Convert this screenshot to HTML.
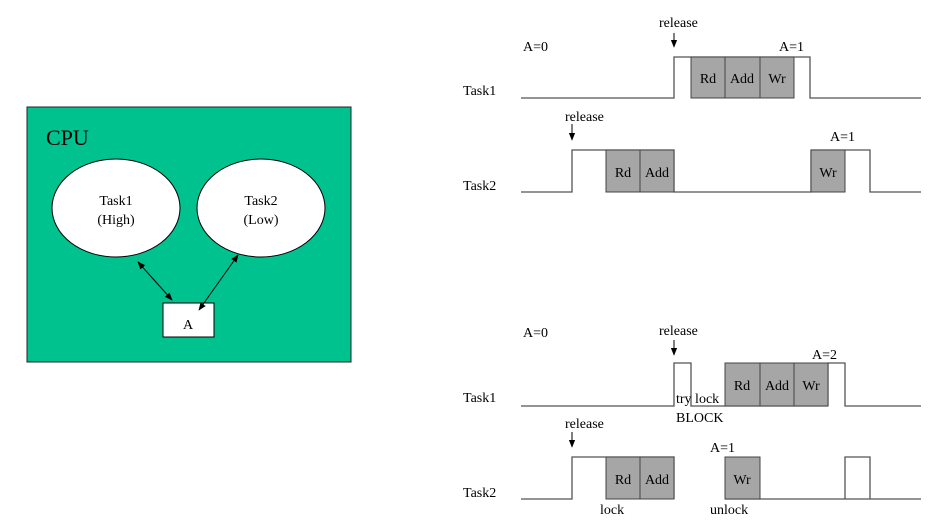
<!DOCTYPE html>
<html><head><meta charset="utf-8"><style>body{margin:0;background:#fff}svg{display:block}</style></head><body>
<svg width="951" height="525" viewBox="0 0 951 525" xmlns="http://www.w3.org/2000/svg" font-family="Liberation Serif, serif" font-size="14">
<defs><marker id="a" viewBox="0 0 10 10" refX="9" refY="5" markerWidth="8" markerHeight="8" orient="auto-start-reverse"><path d="M0,1 L10,5 L0,9 z" fill="#000"/></marker></defs>
<rect x="27" y="107" width="324" height="255" fill="#00c28f" stroke="#222" stroke-width="1"/>
<text x="46" y="145" font-size="22">CPU</text>
<ellipse cx="116" cy="208" rx="64" ry="49" fill="#fff" stroke="#000"/>
<ellipse cx="261" cy="208" rx="64" ry="49" fill="#fff" stroke="#000"/>
<text x="116" y="205" text-anchor="middle">Task1</text><text x="116" y="224" text-anchor="middle">(High)</text>
<text x="261" y="205" text-anchor="middle">Task2</text><text x="261" y="224" text-anchor="middle">(Low)</text>
<rect x="163" y="303" width="51" height="34" fill="#fff" stroke="#000"/>
<text x="188" y="329" text-anchor="middle">A</text>
<line x1="138" y1="262" x2="172" y2="300" stroke="#000" marker-start="url(#a)" marker-end="url(#a)"/>
<line x1="238" y1="255" x2="199" y2="310" stroke="#000" marker-start="url(#a)" marker-end="url(#a)"/>
<g fill="none" stroke="#555" stroke-width="1.3">
<polyline points="521,98 674,98 674,57 810,57 810,98 921,98"/>
<polyline points="521,192 572,192 572,150 674,150 674,192 811,192 811,150 870,150 870,192 921,192"/>
<polyline points="521,406 674,406 674,363 691,363 691,406 725,406"/>
<polyline points="828,406 828,363 845,363 845,406 921,406"/>
<line x1="725" y1="406" x2="828" y2="406"/>
<polyline points="521,499 572,499 572,457 674,457 674,499"/>
<polyline points="725,499 921,499"/>
<polyline points="845,499 845,457 870,457 870,499"/>
</g>
<g fill="#a6a6a6" stroke="#444" stroke-width="1">
<rect x="691" y="57" width="34" height="41"/><rect x="725" y="57" width="35" height="41"/><rect x="760" y="57" width="34" height="41"/>
<rect x="606" y="150" width="34" height="42"/><rect x="640" y="150" width="34" height="42"/>
<rect x="811" y="150" width="34" height="42"/>
<rect x="725" y="363" width="35" height="43"/><rect x="760" y="363" width="34" height="43"/><rect x="794" y="363" width="34" height="43"/>
<rect x="606" y="457" width="34" height="42"/><rect x="640" y="457" width="34" height="42"/>
<rect x="725" y="457" width="35" height="42"/>
</g>
<g text-anchor="middle">
<text x="708" y="83">Rd</text><text x="742" y="83">Add</text><text x="777" y="83">Wr</text>
<text x="623" y="177">Rd</text><text x="657" y="177">Add</text><text x="828" y="177">Wr</text>
<text x="742" y="390">Rd</text><text x="777" y="390">Add</text><text x="811" y="390">Wr</text>
<text x="623" y="484">Rd</text><text x="657" y="484">Add</text><text x="742" y="484">Wr</text>
</g>
<text x="463" y="95">Task1</text><text x="463" y="190">Task2</text>
<text x="463" y="402">Task1</text><text x="463" y="497">Task2</text>
<text x="659" y="27">release</text><text x="565" y="121">release</text>
<text x="659" y="335">release</text><text x="565" y="428">release</text>
<text x="523" y="51">A=0</text><text x="779" y="51">A=1</text><text x="830" y="141">A=1</text>
<text x="523" y="337">A=0</text><text x="812" y="359">A=2</text><text x="710" y="452">A=1</text>
<text x="676" y="403">try lock</text><text x="676" y="422">BLOCK</text>
<text x="600" y="514">lock</text><text x="710" y="514">unlock</text>
<g stroke="#000" marker-end="url(#a)">
<line x1="674" y1="33" x2="674" y2="47"/><line x1="572" y1="124" x2="572" y2="140"/>
<line x1="674" y1="340" x2="674" y2="355"/><line x1="572" y1="432" x2="572" y2="447"/>
</g>
</svg>
</body></html>
